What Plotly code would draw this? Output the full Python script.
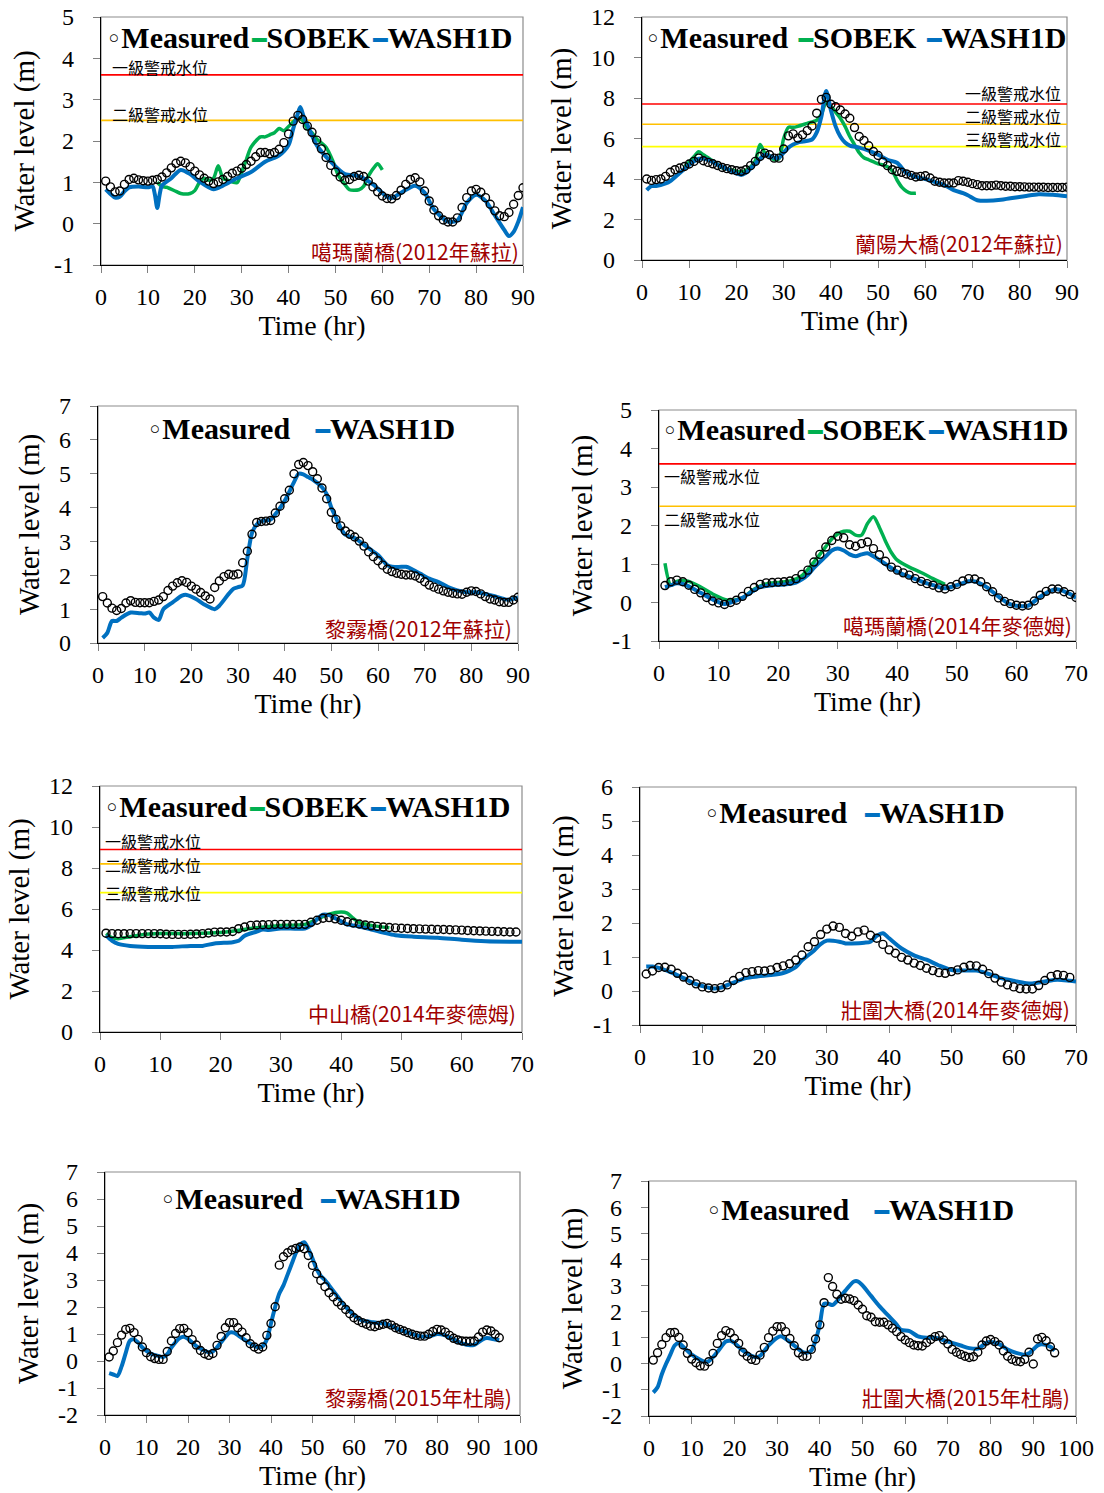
import plotly.graph_objects as go

# ---------------- data ----------------
# Panel 1: 噶瑪蘭橋 (2012年蘇拉)
p1_meas = [1.03,0.89,0.77,0.79,0.95,1.07,1.10,1.06,1.04,1.03,
           1.05,1.07,1.13,1.23,1.35,1.46,1.51,1.47,1.38,1.27,
           1.18,1.10,1.03,0.97,1.01,1.07,1.14,1.22,1.27,1.34,
           1.43,1.51,1.62,1.72,1.72,1.69,1.72,1.80,1.96,2.17,
           2.48,2.62,2.52,2.36,2.21,2.02,1.81,1.60,1.41,1.25,
           1.13,1.05,1.07,1.14,1.17,1.14,1.03,0.89,0.77,0.67,
           0.61,0.60,0.68,0.81,0.95,1.07,1.11,1.01,0.79,0.55,
           0.33,0.19,0.09,0.04,0.04,0.14,0.39,0.63,0.79,0.83,
           0.76,0.63,0.47,0.31,0.19,0.17,0.27,0.47,0.68,0.87]
p1_wash_t = [1,2,3,4,5,6,8,10,11,11.5,12,12.5,13,15,17,19,21,24,26,29,32,35,38,40,41,41.8,42.5,43.2,44,46,
             49,52,55,58,61,62,64,67,69,71,74,76,78,80,82,84,86,87,88,89,90]
p1_wash = [0.83,0.72,0.63,0.65,0.78,0.88,0.9,0.88,0.9,0.7,0.38,0.7,0.92,1.1,1.3,1.2,1.02,0.83,0.92,1.1,
           1.25,1.5,1.65,1.9,2.3,2.6,2.82,2.6,2.4,1.9,1.5,1.2,1.15,0.95,0.65,0.62,0.75,0.92,0.75,0.35,
           0.05,0.08,0.5,0.7,0.55,0.2,-0.15,-0.3,-0.2,0.05,0.4]
p1_sobek_t = [12,13,14,16,17,19,20,21,22,23,24,25,26,27,29,30,31,32,34,35,36,37,38,39,40,42,43,44,45,46,
              48,49.5,50.5,52,53,55,56,57,58.5,59,60]
p1_sobek = [1.0,0.9,0.88,0.78,0.73,0.73,0.8,1.0,1.1,1.05,1.1,1.4,1.1,1.05,0.99,1.25,1.55,1.85,2.1,2.1,
            2.15,2.2,2.3,2.25,2.35,2.55,2.5,2.3,2.2,2.05,1.85,1.5,1.2,0.95,0.82,0.82,0.9,1.15,1.4,1.45,1.3]
p1_warn = [3.6, 2.5]

# Panel 2: 蘭陽大橋 (2012年蘇拉)
p2_meas = [4.0,3.93,3.97,4.0,4.13,4.33,4.46,4.54,4.62,4.74,
           4.87,5.03,4.90,4.82,4.75,4.67,4.57,4.51,4.46,4.41,
           4.38,4.46,4.66,4.87,5.11,5.28,5.20,5.03,5.03,5.48,
           6.13,6.23,6.02,6.18,6.39,6.62,7.25,7.93,8.03,7.69,
           7.57,7.41,7.21,7.0,6.54,6.10,5.90,5.64,5.36,5.16,
           4.84,4.66,4.46,4.38,4.33,4.25,4.18,4.10,4.13,4.16,
           4.05,3.89,3.84,3.80,3.80,3.80,3.92,3.89,3.84,3.77,
           3.72,3.67,3.67,3.67,3.70,3.67,3.64,3.64,3.62,3.62,
           3.61,3.60,3.60,3.59,3.59,3.58,3.58,3.58,3.58,3.60]
p2_wash_t = [1,2,3,5,6,8,10,12,14,16,18,21,22,24,25,26,28,29,30,31,32,33,34,36,37,38,39,40,41,42,
             43,44,46,48,50,52,54,56,58,60,62,64,66,68,69,71,73,76,78,81,84,87,90]
p2_wash = [3.45,3.65,3.65,3.78,3.9,4.3,4.7,5.0,4.95,4.7,4.5,4.2,4.3,4.75,5.0,5.2,5.05,5.05,5.3,5.55,
           5.7,5.8,5.85,5.95,6.3,7.1,8.35,7.4,6.6,6.1,5.8,5.65,5.55,5.4,5.2,4.95,4.8,4.3,4.1,4.0,
           3.85,3.7,3.45,3.3,3.2,2.95,2.92,2.97,3.05,3.15,3.25,3.22,3.15]
p2_sobek_t = [9,11,12,13,15,17,19,21,23,24,25,26,27,28,29,30,31,32,33,35,37,38,39,40,41,42,43,44,45,46,
              47,48,50,51,52,53,54,55,56,57,58]
p2_sobek = [4.6,5.1,5.35,5.2,4.9,4.55,4.45,4.35,4.6,4.9,5.7,5.3,5.15,4.95,5.0,6.0,6.55,6.55,6.6,6.75,
            6.9,7.2,7.8,7.6,7.3,7.0,6.6,6.1,5.7,5.3,5.05,4.95,4.75,4.7,4.6,4.4,3.95,3.6,3.4,3.3,3.3]
p2_warn = [7.7, 6.7, 5.6]

# Panel 3: 黎霧橋 (2012年蘇拉)
p3_meas = [1.37,1.18,1.03,0.96,1.02,1.18,1.25,1.20,1.19,1.19,
           1.19,1.23,1.27,1.37,1.55,1.68,1.78,1.84,1.79,1.68,
           1.59,1.49,1.39,1.30,1.64,1.83,1.96,2.03,2.01,2.04,
           2.37,2.71,3.21,3.56,3.59,3.60,3.62,3.84,4.04,4.26,
           4.51,5.0,5.27,5.33,5.24,5.06,4.85,4.58,4.26,3.86,
           3.65,3.46,3.31,3.21,3.13,3.01,2.86,2.69,2.55,2.43,
           2.30,2.18,2.11,2.06,2.03,2.01,2.01,1.98,1.91,1.81,
           1.71,1.65,1.59,1.54,1.50,1.47,1.45,1.44,1.50,1.54,
           1.52,1.45,1.37,1.30,1.27,1.22,1.20,1.20,1.27,1.35]
p3_wash_t = [1,2,3,4,5,7,9,10,11,12,13,14,16,18,19,21,23,25,26,28,29,30,31,32,33,34,35,37,38,40,
             42,43,44,45,46,48,49,50,51,52,53,55,57,59,60,62,63,65,66,67,69,71,73,75,77,79,81,83,85,87,88,90]
p3_wash = [0.15,0.3,0.65,0.65,0.75,0.9,0.88,0.87,0.9,0.75,0.68,1.0,1.2,1.4,1.42,1.3,1.12,1.0,1.1,1.45,
           1.6,1.65,1.7,2.5,3.25,3.5,3.6,3.65,3.8,4.2,4.75,5.0,4.98,4.9,4.83,4.6,4.4,4.0,3.7,3.4,
           3.2,3.1,2.9,2.7,2.6,2.3,2.25,2.25,2.25,2.2,2.05,1.9,1.8,1.65,1.55,1.5,1.5,1.45,1.38,1.3,1.28,1.35]

# Panel 4: 噶瑪蘭橋 (2014年麥德姆)
p4_meas = [0.44,0.54,0.58,0.54,0.45,0.34,0.25,0.13,0.04,-0.01,
           -0.05,0.0,0.06,0.16,0.29,0.39,0.47,0.51,0.52,0.53,
           0.54,0.56,0.62,0.73,0.84,1.05,1.25,1.44,1.61,1.72,
           1.68,1.50,1.46,1.53,1.57,1.40,1.24,1.07,0.92,0.84,
           0.77,0.71,0.62,0.55,0.49,0.45,0.38,0.35,0.41,0.47,
           0.56,0.62,0.61,0.54,0.41,0.28,0.12,0.03,-0.03,-0.07,
           -0.09,-0.07,0.04,0.19,0.29,0.35,0.35,0.28,0.21,0.13]
p4_wash_t = [1,2,3,4,5,7,9,11,12,14,16,17,19,21,23,24,25,26,28,29,30,31,32,33,34,35,36,38,40,42,
             44,46,48,50,52,53,55,57,59,61,62,64,66,67,69,70]
p4_wash = [0.4,0.45,0.5,0.48,0.42,0.25,0.08,-0.04,0.0,0.12,0.32,0.4,0.45,0.47,0.52,0.6,0.72,0.9,1.2,1.35,
           1.4,1.35,1.25,1.2,1.25,1.28,1.2,1.0,0.8,0.67,0.55,0.45,0.37,0.45,0.55,0.55,0.4,0.15,-0.05,-0.1,
           -0.08,0.15,0.32,0.34,0.22,0.12]
p4_sobek_t = [1,2,3,4,5,7,9,11,12,14,16,18,20,22,24,26,28,29,30,31,32,33,34,35,36,37,38,39,40,42,44,46,48]
p4_sobek = [1.02,0.45,0.55,0.57,0.55,0.4,0.22,0.08,0.05,0.12,0.35,0.48,0.52,0.56,0.7,1.05,1.45,1.65,1.78,1.85,
            1.85,1.75,1.75,2.05,2.23,1.95,1.6,1.3,1.1,0.92,0.78,0.62,0.47]
p4_warn = [3.6, 2.5]

# Panel 5: 中山橋 (2014年麥德姆)
p5_meas = [4.82,4.80,4.79,4.79,4.80,4.80,4.80,4.80,4.80,4.79,
           4.77,4.76,4.76,4.76,4.77,4.78,4.80,4.83,4.87,4.88,
           4.88,4.90,5.04,5.12,5.20,5.22,5.23,5.24,5.25,5.25,
           5.25,5.25,5.25,5.25,5.35,5.45,5.55,5.58,5.52,5.45,
           5.38,5.32,5.27,5.22,5.18,5.15,5.12,5.10,5.08,5.06,
           5.05,5.04,5.03,5.02,5.01,5.00,5.00,4.99,4.98,4.97,
           4.95,4.94,4.93,4.92,4.91,4.90,4.89,4.88,4.88]
p5_wash_t = [1,2,3,5,8,12,15,17,19,22,23,24,26,27,28,30,34,35,36,37,38,39,40,41,43,45,47,49,52,56,60,64,70]
p5_wash = [4.7,4.45,4.3,4.2,4.15,4.15,4.2,4.2,4.32,4.38,4.45,4.7,4.9,5.0,4.98,5.05,5.05,5.2,5.5,5.72,
           5.7,5.55,5.4,5.25,5.15,5.0,4.85,4.72,4.65,4.6,4.5,4.43,4.4]
p5_sobek_t = [1,2,3,5,7,10,15,20,25,28,30,34,36,38,40,41,42,43,45,48]
p5_sobek = [4.8,4.6,4.55,4.65,4.75,4.8,4.8,4.85,5.05,5.15,5.2,5.25,5.5,5.75,5.85,5.8,5.55,5.35,5.2,5.08]
p5_warn = [8.9, 8.2, 6.8]

# Panel 6: 壯圍大橋 (2014年麥德姆)
p6_meas = [0.50,0.59,0.69,0.70,0.64,0.52,0.41,0.31,0.21,0.12,
           0.09,0.07,0.10,0.18,0.31,0.43,0.54,0.57,0.60,0.59,
           0.62,0.69,0.74,0.80,0.91,1.06,1.30,1.45,1.66,1.82,
           1.91,1.87,1.69,1.61,1.74,1.79,1.64,1.55,1.37,1.21,
           1.11,0.99,0.91,0.82,0.75,0.67,0.60,0.54,0.52,0.57,
           0.62,0.70,0.75,0.74,0.64,0.51,0.38,0.26,0.18,0.12,
           0.07,0.06,0.06,0.16,0.31,0.43,0.48,0.46,0.40]
p6_wash_t = [1,2,3,5,7,9,11,12,13,15,17,19,21,23,24,25,26,28,29,30,31,32,33,34,36,37,38,39,40,42,
             44,46,48,50,52,54,56,58,60,62,63,65,67,69,70]
p6_wash = [0.72,0.72,0.68,0.55,0.38,0.2,0.1,0.07,0.1,0.25,0.38,0.43,0.47,0.53,0.6,0.7,0.9,1.2,1.38,1.48,
           1.48,1.45,1.4,1.4,1.42,1.45,1.62,1.7,1.55,1.25,1.05,0.92,0.75,0.62,0.6,0.6,0.5,0.38,0.3,0.23,
           0.22,0.28,0.33,0.3,0.28]

# Panel 7: 黎霧橋 (2015年杜鵑)
p7_meas = [0.15,0.37,0.68,0.96,1.17,1.21,1.05,0.80,0.52,0.31,
           0.16,0.09,0.06,0.06,0.35,0.74,1.02,1.20,1.21,1.05,
           0.79,0.59,0.39,0.27,0.21,0.28,0.58,0.91,1.23,1.42,
           1.42,1.23,1.07,0.86,0.64,0.52,0.44,0.52,0.95,1.39,
           2.01,3.55,3.86,4.01,4.11,4.17,4.22,4.16,3.91,3.54,
           3.23,2.98,2.75,2.53,2.37,2.19,2.06,1.91,1.75,1.60,
           1.50,1.42,1.36,1.29,1.27,1.32,1.36,1.39,1.33,1.23,
           1.17,1.11,1.05,0.99,0.95,0.92,0.92,0.99,1.09,1.17,
           1.15,1.07,0.95,0.84,0.78,0.74,0.73,0.73,0.74,0.89,
           1.07,1.15,1.11,0.99,0.86]
p7_wash_t = [1,2,3,4,5,6,7,8,9,11,13,14,15,16,18,19,20,22,24,25,26,28,30,31,33,35,37,38,39,40,
             41,42,43,44,45,46,47,48,49,50,51,52,53,54,56,58,60,62,64,66,67,69,71,73,75,77,79,80,82,84,
             86,88,89,91,92,94,95]
p7_wash = [-0.45,-0.5,-0.55,-0.2,0.3,0.75,0.8,0.68,0.5,0.28,0.18,0.15,0.25,0.5,0.85,0.9,0.82,0.55,0.38,0.32,
           0.35,0.7,1.05,1.05,0.85,0.65,0.5,0.55,0.8,1.4,2.0,2.5,2.8,3.2,3.6,4.0,4.3,4.4,4.15,3.8,
           3.4,3.15,3.0,2.8,2.4,2.0,1.7,1.5,1.45,1.4,1.4,1.3,1.15,1.05,0.95,0.9,0.95,1.0,0.95,0.8,
           0.65,0.58,0.6,0.8,0.85,0.8,0.78]

# Panel 8: 壯圍大橋 (2015年杜鵑)
p8_meas = [0.14,0.42,0.74,1.0,1.19,1.20,1.01,0.72,0.40,0.18,
           0.04,-0.08,-0.09,0.08,0.40,0.78,1.08,1.27,1.19,0.97,
           0.78,0.44,0.29,0.17,0.13,0.33,0.63,1.0,1.25,1.42,
           1.42,1.23,0.97,0.69,0.42,0.29,0.29,0.55,0.95,1.49,
           2.34,3.30,2.96,2.66,2.47,2.51,2.48,2.42,2.25,2.09,
           1.84,1.78,1.61,1.59,1.59,1.49,1.36,1.23,1.04,0.91,
           0.81,0.72,0.69,0.68,0.81,0.93,1.04,1.08,0.91,0.76,
           0.55,0.44,0.36,0.29,0.24,0.27,0.44,0.72,0.87,0.93,
           0.85,0.72,0.49,0.29,0.17,0.10,0.08,0.17,0.44,-0.01,
           0.95,1.01,0.88,0.65,0.42]
p8_wash_t = [1,2,3,4,5,6,7,8,10,12,13,14,16,18,19,20,22,24,25,26,28,30,31,32,34,36,37,38,39,40,
             41,42,43,44,46,48,49,50,52,54,56,58,59,61,63,65,67,69,71,73,75,77,79,80,82,84,86,88,89,91,
             92,94,95]
p8_wash = [-1.1,-0.9,-0.4,0.0,0.35,0.7,0.8,0.65,0.35,0.15,0.08,0.1,0.45,0.85,0.88,0.8,0.5,0.3,0.25,0.3,
           0.7,1.0,1.05,0.95,0.7,0.45,0.42,0.5,0.9,1.5,2.3,2.3,2.25,2.4,2.8,3.15,3.15,3.0,2.6,2.2,
           1.85,1.5,1.3,1.25,1.05,1.0,1.0,0.9,0.8,0.7,0.6,0.58,0.8,0.83,0.75,0.55,0.42,0.35,0.4,0.7,
           0.75,0.65,0.5]

stations = ["噶瑪蘭橋(2012年蘇拉)", "蘭陽大橋(2012年蘇拉)", "黎霧橋(2012年蘇拉)", "噶瑪蘭橋(2014年麥德姆)",
            "中山橋(2014年麥德姆)", "壯圍大橋(2014年麥德姆)", "黎霧橋(2015年杜鵑)", "壯圍大橋(2015年杜鵑)"]
warn_labels = ["一級警戒水位", "二級警戒水位", "三級警戒水位"]
series_names = ["Measured", "SOBEK", "WASH1D"]
x_title = "Time (hr)"
y_title = "Water level (m)"

x_ranges = [(0, 90), (0, 90), (0, 90), (0, 70), (0, 70), (0, 70), (0, 100), (0, 100)]
y_ticks = [[-1, 0, 1, 2, 3, 4, 5], [0, 2, 4, 6, 8, 10, 12], [0, 1, 2, 3, 4, 5, 6, 7], [-1, 0, 1, 2, 3, 4, 5],
           [0, 2, 4, 6, 8, 10, 12], [-1, 0, 1, 2, 3, 4, 5, 6], [-2, -1, 0, 1, 2, 3, 4, 5, 6, 7],
           [-2, -1, 0, 1, 2, 3, 4, 5, 6, 7]]

# ---------------- styling / layout ----------------
W, H = 1104, 1493
BLUE = "#0070C0"
GREEN = "#00B050"
WARN_COLORS = ["#FF0000", "#FFC000", "#FFFF00"]
STATION_COLOR = "#A00000"
SERIF = "Liberation Serif, Times New Roman, serif"
CJK = "Noto Sans CJK TC, Noto Sans CJK SC, sans-serif"

# plot boxes in pixels: left, right, top, bottom
boxes = [(101, 523, 17, 265), (642, 1067, 17, 260), (98, 518, 406, 643), (659, 1076, 410, 641),
         (100, 522, 786, 1032), (640, 1076, 787, 1025), (105, 520, 1172, 1415), (649, 1076, 1181, 1416)]

# legend: position, anchor, number of spaces between entries (0 = thin gap)
panels = [
    dict(meas=p1_meas, wash=(p1_wash_t, p1_wash), sobek=(p1_sobek_t, p1_sobek), warn=p1_warn,
         legend=dict(x=104, y=38, anchor="left", gap=0),
         warn_pos=[(110, 67, "left"), (110, 114, "left")], station=(521, 251)),
    dict(meas=p2_meas, wash=(p2_wash_t, p2_wash), sobek=(p2_sobek_t, p2_sobek), warn=p2_warn,
         legend=dict(x=643, y=38, anchor="left", gap=1),
         warn_pos=[(1063, 93, "right"), (1063, 116, "right"), (1063, 139, "right")], station=(1065, 243)),
    dict(meas=p3_meas, wash=(p3_wash_t, p3_wash), sobek=None, warn=[],
         legend=dict(x=301, y=428, anchor="center", gap=3), warn_pos=[], station=(514, 628)),
    dict(meas=p4_meas, wash=(p4_wash_t, p4_wash), sobek=(p4_sobek_t, p4_sobek), warn=p4_warn,
         legend=dict(x=660, y=430, anchor="left", gap=0),
         warn_pos=[(662, 476, "left"), (662, 519, "left")], station=(1074, 625)),
    dict(meas=p5_meas, wash=(p5_wash_t, p5_wash), sobek=(p5_sobek_t, p5_sobek), warn=p5_warn,
         legend=dict(x=102, y=806, anchor="left", gap=0),
         warn_pos=[(103, 841, "left"), (103, 865, "left"), (103, 893, "left")], station=(518, 1013)),
    dict(meas=p6_meas, wash=(p6_wash_t, p6_wash), sobek=None, warn=[],
         legend=dict(x=854, y=813, anchor="center", gap=2), warn_pos=[], station=(1072, 1009)),
    dict(meas=p7_meas, wash=(p7_wash_t, p7_wash), sobek=None, warn=[],
         legend=dict(x=310, y=1198, anchor="center", gap=2), warn_pos=[], station=(514, 1397)),
    dict(meas=p8_meas, wash=(p8_wash_t, p8_wash), sobek=None, warn=[],
         legend=dict(x=860, y=1209, anchor="center", gap=3), warn_pos=[], station=(1072, 1397)),
]


def px(x):
    return x / W


def py(y):
    return 1 - y / H


fig = go.Figure()
annotations = []
shapes = []
layout_axes = {}

CIRCLE = '<span style="font-family:DejaVu Sans;font-size:26px;font-weight:normal">◦</span>'
THIN = '<span style="font-size:12px"> </span>'


def dash(color):
    return f'<span style="font-family:DejaVu Sans;color:{color};font-size:24px">━</span>'


for i, (p, box, xr, yt, st) in enumerate(zip(panels, boxes, x_ranges, y_ticks, stations), start=1):
    sfx = "" if i == 1 else str(i)
    xa, ya = "x" + sfx, "y" + sfx
    x0, x1 = xr
    # warning lines
    for k, wv in enumerate(p["warn"]):
        fig.add_trace(go.Scatter(x=[x0, x1], y=[wv, wv], mode="lines", xaxis=xa, yaxis=ya,
                                 line=dict(color=WARN_COLORS[k], width=1.6), showlegend=False,
                                 hoverinfo="skip"))
    if p["sobek"] is not None:
        fig.add_trace(go.Scatter(x=p["sobek"][0], y=p["sobek"][1], mode="lines", name=series_names[1],
                                 xaxis=xa, yaxis=ya, showlegend=False,
                                 line=dict(color=GREEN, width=3.5, shape="spline", smoothing=0.8)))
    fig.add_trace(go.Scatter(x=p["wash"][0], y=p["wash"][1], mode="lines", name=series_names[2],
                             xaxis=xa, yaxis=ya, showlegend=False,
                             line=dict(color=BLUE, width=4, shape="spline", smoothing=0.8)))
    fig.add_trace(go.Scatter(x=list(range(1, len(p["meas"]) + 1)), y=p["meas"], mode="markers",
                             name=series_names[0], xaxis=xa, yaxis=ya, showlegend=False,
                             marker=dict(symbol="circle-open", size=8, color="black",
                                         line=dict(width=1.4, color="black"))))

    l, r, t, b = box
    axis_common = dict(showgrid=False, zeroline=False, showline=True, linecolor="black", linewidth=1.3,
                       ticks="outside", tickcolor="#808080", ticklen=7, tickwidth=1.2,
                       tickfont=dict(family=SERIF, size=24, color="black"), automargin=False)
    layout_axes["xaxis" + sfx] = dict(axis_common, domain=[px(l), px(r)], anchor=ya, range=list(xr),
                                      dtick=10, tick0=0, ticklabelstandoff=3,
                                      title=dict(text=x_title, font=dict(family=SERIF, size=28, color="black"),
                                                 standoff=0))
    layout_axes["yaxis" + sfx] = dict(axis_common, domain=[py(b), py(t)], anchor=xa,
                                      range=[yt[0], yt[-1]], tickvals=yt, ticktext=[str(v) for v in yt],
                                      ticklabelstandoff=14,
                                      title=dict(text=y_title, font=dict(family=SERIF, size=29, color="black"),
                                                 standoff=10))
    # gray frame (top/right appear gray)
    shapes.append(dict(type="rect", xref=f"{xa} domain", yref=f"{ya} domain", x0=0, x1=1, y0=0, y1=1,
                       line=dict(color="#8C8C8C", width=1.2), layer="below"))

    # legend built from the series names
    lg = p["legend"]
    parts = [CIRCLE + series_names[0]]
    if p["sobek"] is not None:
        parts.append(dash(GREEN) + series_names[1])
    parts.append(dash(BLUE) + series_names[2])
    sep = THIN if lg["gap"] == 0 else THIN + " " * lg["gap"]
    text = "<b>" + sep.join(parts) + "</b>"
    annotations.append(dict(text=text, x=px(lg["x"]), y=py(lg["y"]), xref="paper", yref="paper",
                            xanchor=lg["anchor"], yanchor="middle", showarrow=False,
                            font=dict(family=SERIF, size=30, color="black")))
    # warning labels
    for k, (wx, wy, anc) in enumerate(p["warn_pos"]):
        annotations.append(dict(text=warn_labels[k], x=px(wx), y=py(wy), xref="paper", yref="paper",
                                xanchor=anc, yanchor="middle", showarrow=False,
                                font=dict(family=CJK, size=16, color="black")))
    # station label
    sx, sy = p["station"]
    annotations.append(dict(text=st, x=px(sx), y=py(sy), xref="paper", yref="paper",
                            xanchor="right", yanchor="middle", showarrow=False,
                            font=dict(family=CJK, size=21, color=STATION_COLOR)))

fig.update_layout(width=W, height=H, margin=dict(l=0, r=0, t=0, b=0),
                  paper_bgcolor="white", plot_bgcolor="white", showlegend=False,
                  annotations=annotations, shapes=shapes, **layout_axes)

fig.write_html("out.html")
